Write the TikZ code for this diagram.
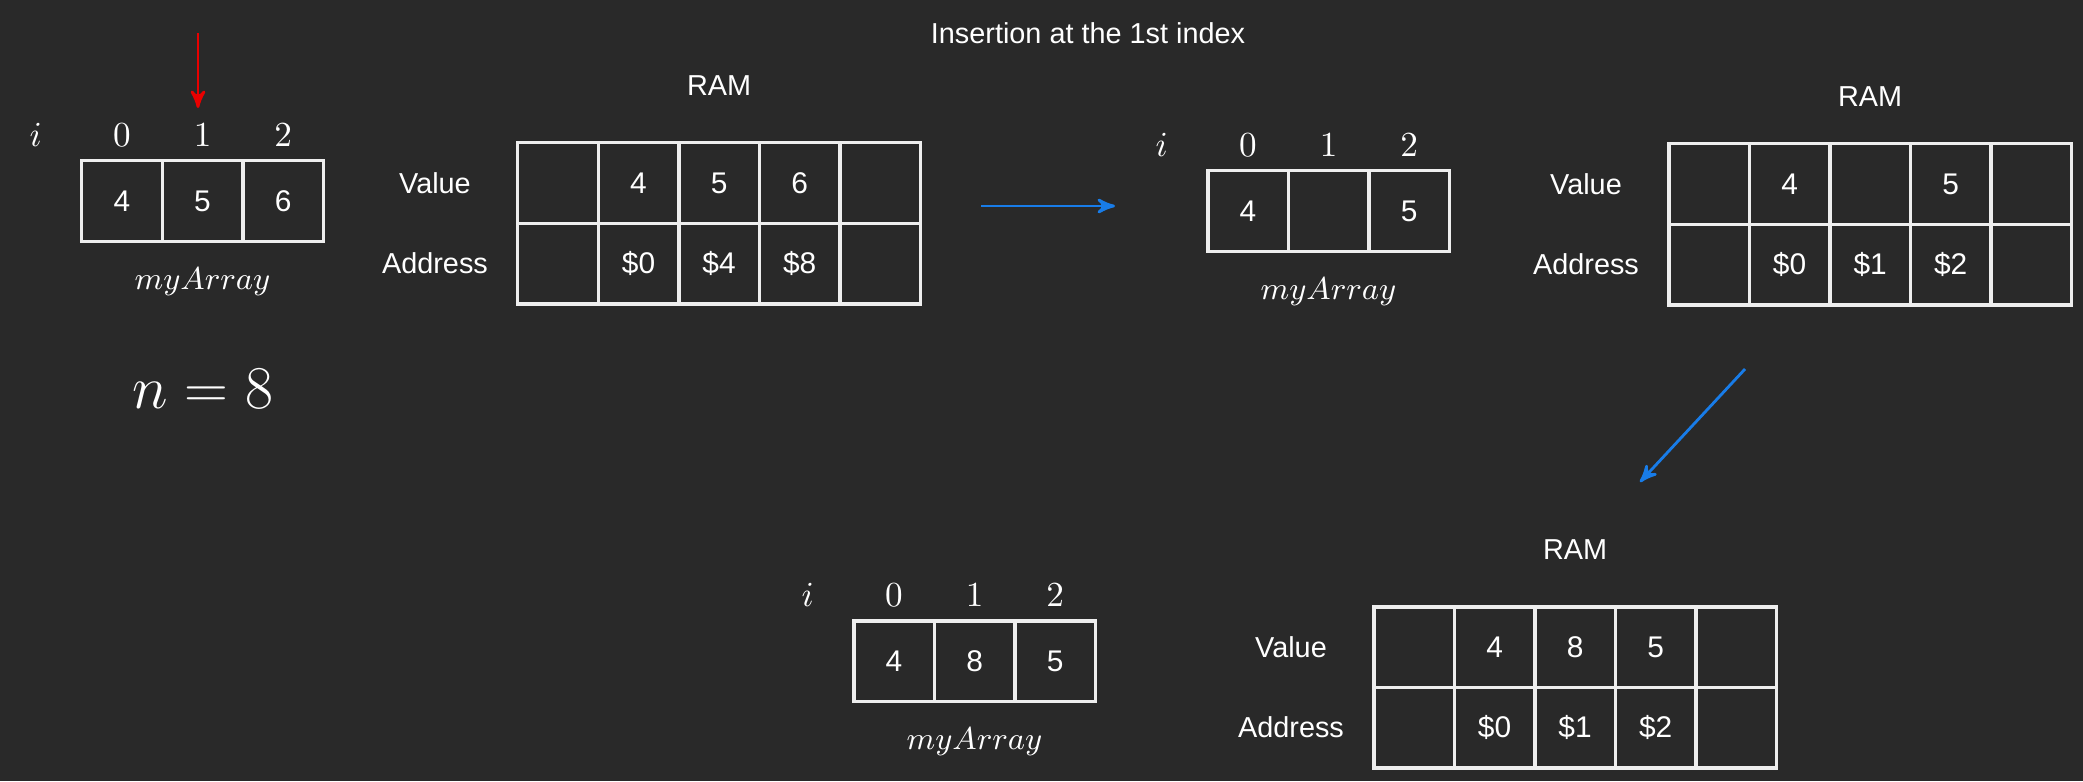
\documentclass[tikz,border=0pt]{standalone}
\usepackage{fontspec}
\setsansfont{Liberation Sans}
\usepackage{tikz}
\usetikzlibrary{arrows}
\usetikzlibrary{positioning,calc}
\definecolor{bggrey}{RGB}{41,41,41}
\definecolor{linewhite}{RGB}{238,238,238}
\definecolor{arrowblue}{RGB}{24,124,232}
\definecolor{arrowred}{RGB}{232,0,0}
\tikzset{
	every node/.style={font=\sffamily\fontsize{8.2}{10}\selectfont,text=white}
}
\tikzset{
	>=stealth',
	cell/.style={rectangle,draw=linewhite,line width=1pt,minimum size=0.805cm,inner sep=0pt,outer sep=0pt,font=\sffamily\fontsize{8.5}{10}\selectfont},
	idx/.style={inner sep=0pt,font=\fontsize{10}{12}\selectfont},
	name label/.style={inner sep=0pt,font=\fontsize{9.2}{11}\selectfont},
	row label/.style={minimum width=1.1cm,inner sep=0pt},
	ram label/.style={inner sep=0pt},
	move/.style={->,draw=arrowblue,line width=0.8pt},
	pick/.style={->,draw=arrowred,line width=0.8pt}
}

\begin{document}
\begin{tikzpicture}[x=0.01cm,y=-0.01cm]
      \fill[bggrey] (0,0) rectangle (2083,781);
      \useasboundingbox (0,0) rectangle (2083,781);
      \node (title) at (1088,33) {Insertion at the 1st index};

      % array before insertion
      \node[cell] (a1) at (122,201) {4};
      \node[cell] (a2) [right=0pt of a1] {5};
      \node[cell] (a3) [right=0pt of a2] {6};
      \node[idx] (ai1) [above=0.14cm of a1] {$0$};
      \node[idx] (ai2) [above=0.14cm of a2] {$1$};
      \node[idx] (ai3) [above=0.14cm of a3] {$2$};
      \node[idx] (ai) [base left=0.7cm of ai1] {$i$};
      \node[name label] (aname) [below=0.26cm of a2] {$myArray$};
      \node[inner sep=0pt,font=\fontsize{16}{19}\selectfont] (size) [below=0.72cm of aname] {$n = 8$};

      % RAM before insertion
      \node[cell] (v1) at (558,183) {};
      \node[cell] (v2) [right=0pt of v1] {4};
      \node[cell] (v3) [right=0pt of v2] {5};
      \node[cell] (v4) [right=0pt of v3] {6};
      \node[cell] (v5) [right=0pt of v4] {};
      \node[cell] (d1) [below=0pt of v1] {};
      \node[cell] (d2) [below=0pt of v2] {\$0};
      \node[cell] (d3) [below=0pt of v3] {\$4};
      \node[cell] (d4) [below=0pt of v4] {\$8};
      \node[cell] (d5) [below=0pt of v5] {};
      \node[row label] (vlab) [left=0.27cm of v1] {Value};
      \node[row label] (dlab) [left=0.27cm of d1] {Address};
      \node[ram label] (ram1) [above=0.47cm of v3] {RAM};

      % array with a gap
      \node[cell] (b1) at (1248,211) {4};
      \node[cell] (b2) [right=0pt of b1] {};
      \node[cell] (b3) [right=0pt of b2] {5};
      \node[idx] (bi1) [above=0.14cm of b1] {$0$};
      \node[idx] (bi2) [above=0.14cm of b2] {$1$};
      \node[idx] (bi3) [above=0.14cm of b3] {$2$};
      \node[idx] (bi) [base left=0.7cm of bi1] {$i$};
      \node[name label] (bname) [below=0.26cm of b2] {$myArray$};

      % RAM with a gap
      \node[cell] (w1) at (1709,184) {};
      \node[cell] (w2) [right=0pt of w1] {4};
      \node[cell] (w3) [right=0pt of w2] {};
      \node[cell] (w4) [right=0pt of w3] {5};
      \node[cell] (w5) [right=0pt of w4] {};
      \node[cell] (e1) [below=0pt of w1] {};
      \node[cell] (e2) [below=0pt of w2] {\$0};
      \node[cell] (e3) [below=0pt of w3] {\$1};
      \node[cell] (e4) [below=0pt of w4] {\$2};
      \node[cell] (e5) [below=0pt of w5] {};
      \node[row label] (wlab) [left=0.27cm of w1] {Value};
      \node[row label] (elab) [left=0.27cm of e1] {Address};
      \node[ram label] (ram2) [above=0.37cm of w3] {RAM};

      % array after insertion
      \node[cell] (c1) at (894,661) {4};
      \node[cell] (c2) [right=0pt of c1] {8};
      \node[cell] (c3) [right=0pt of c2] {5};
      \node[idx] (ci1) [above=0.14cm of c1] {$0$};
      \node[idx] (ci2) [above=0.14cm of c2] {$1$};
      \node[idx] (ci3) [above=0.14cm of c3] {$2$};
      \node[idx] (ci) [base left=0.7cm of ci1] {$i$};
      \node[name label] (cname) [below=0.26cm of c2] {$myArray$};

      % RAM after insertion
      \node[cell] (x1) at (1414,647) {};
      \node[cell] (x2) [right=0pt of x1] {4};
      \node[cell] (x3) [right=0pt of x2] {8};
      \node[cell] (x4) [right=0pt of x3] {5};
      \node[cell] (x5) [right=0pt of x4] {};
      \node[cell] (y1) [below=0pt of x1] {};
      \node[cell] (y2) [below=0pt of x2] {\$0};
      \node[cell] (y3) [below=0pt of x3] {\$1};
      \node[cell] (y4) [below=0pt of x4] {\$2};
      \node[cell] (y5) [below=0pt of x5] {};
      \node[row label] (xlab) [left=0.27cm of x1] {Value};
      \node[row label] (ylab) [left=0.27cm of y1] {Address};
      \node[ram label] (ram3) [above=0.47cm of x3] {RAM};

      % arrows
      \coordinate (pin) at (198,33);
      \coordinate (pintip) at (198,108);
      \coordinate (go1) at (981,206);
      \coordinate (to1) at (1115,206);
      \coordinate (go2) at (1745,369);
      \coordinate (to2) at (1640,482);
      \draw[pick] (pin) -- (pintip);
      \draw[move] (go1) -- (to1);
      \draw[move] (go2) -- (to2);
\end{tikzpicture}
\end{document}
